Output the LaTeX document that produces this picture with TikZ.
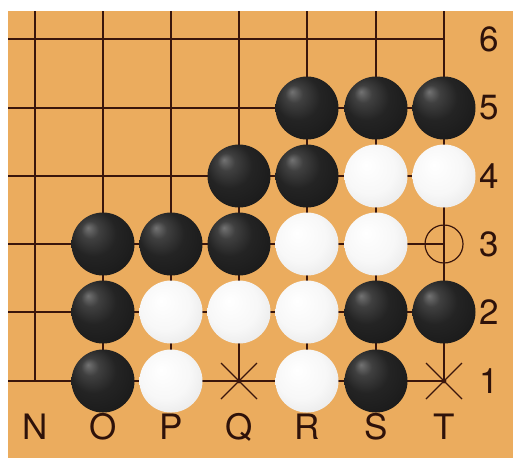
\documentclass[tikz,border=0pt]{standalone}
\usepackage{fontspec}
\setmainfont{TeX Gyre Heros}
\definecolor{wood}{HTML}{EBAC5E}
\definecolor{gline}{HTML}{3A160C}
\pgfdeclareradialshading{blackstone}{\pgfpoint{-12bp}{13bp}}{%
  color(0bp)=(black!55); color(7bp)=(black!75); color(18bp)=(black!86); color(34bp)=(black!90); color(44bp)=(black!94); color(50bp)=(black)}
\pgfdeclareradialshading{whitestone}{\pgfpoint{-8bp}{9bp}}{%
  color(0bp)=(white); color(20bp)=(white!97!black); color(34bp)=(white!91!black); color(44bp)=(white!82!brown); color(52bp)=(white!62!brown)}
\tikzset{
  gridline/.style={draw=gline, line width=1.8pt},
  bstone/.style={circle, minimum size=63pt, inner sep=0pt, shading=blackstone},
  wstone/.style={circle, minimum size=63pt, inner sep=0pt, shading=whitestone},
  lbl/.style={font=\fontsize{35}{35}\selectfont, text=gline!80!black, inner sep=0pt},
  markline/.style={draw=gline, line width=1.2pt},
}
\begin{document}
\begin{tikzpicture}[x=1pt,y=-1pt]
\useasboundingbox (0,0) rectangle (513,459);
\fill[white] (0,0) rectangle (513,459);
\fill[wood] (8,11) rectangle (513,458);
% column x and row y
\def\cN{35}\def\cO{103}\def\cP{171}\def\cQ{239}\def\cR{307}\def\cS{376}\def\cT{444}
\def\rSix{39}\def\rFive{108}\def\rFour{176}\def\rThree{244}\def\rTwo{312}\def\rOne{381}
% grid
\foreach \x in {\cN,\cO,\cP,\cQ,\cR,\cS,\cT}
  \draw[gridline] (\x,11) -- (\x,\rOne);
\foreach \y in {\rSix,\rFive,\rFour,\rThree,\rTwo,\rOne}
  \draw[gridline] (8,\y) -- (\cT,\y);
% black stones
\foreach \x/\y/\n in {\cR/\rFive/R5,\cS/\rFive/S5,\cT/\rFive/T5,\cQ/\rFour/Q4,\cR/\rFour/R4,
  \cO/\rThree/O3,\cP/\rThree/P3,\cQ/\rThree/Q3,\cO/\rTwo/O2,\cS/\rTwo/S2,\cT/\rTwo/T2,\cO/\rOne/O1,\cS/\rOne/S1}
  \node[bstone] (b\n) at (\x,\y) {};
% white stones
\foreach \x/\y/\n in {\cS/\rFour/S4,\cT/\rFour/T4,\cR/\rThree/R3,\cS/\rThree/S3,
  \cP/\rTwo/P2,\cQ/\rTwo/Q2,\cR/\rTwo/R2,\cP/\rOne/P1,\cR/\rOne/R1}
  \node[wstone] (w\n) at (\x,\y) {};
% marks
\draw[markline] (\cT,\rThree) circle (19);
\draw[markline] (\cQ-18,\rOne-18) -- (\cQ+18,\rOne+18) (\cQ-18,\rOne+18) -- (\cQ+18,\rOne-18);
\fill[gline] (\cQ,\rOne) circle (2.4);
\draw[markline] (\cT-18,\rOne-18) -- (\cT+18,\rOne+18) (\cT-18,\rOne+18) -- (\cT+18,\rOne-18);
\fill[gline] (\cT,\rOne) circle (2.4);
% labels
\foreach \y/\t in {\rSix/6,\rFive/5,\rFour/4,\rThree/3,\rTwo/2,\rOne/1}
  \node[lbl] (row\t) at (489,\y) {\t};
\foreach \x/\t in {\cN/N,\cO/O,\cP/P,\cQ/Q,\cR/R,\cS/S,\cT/T}
  \node[lbl] (col\t) at (\x,427) {\t};
\end{tikzpicture}
\end{document}
